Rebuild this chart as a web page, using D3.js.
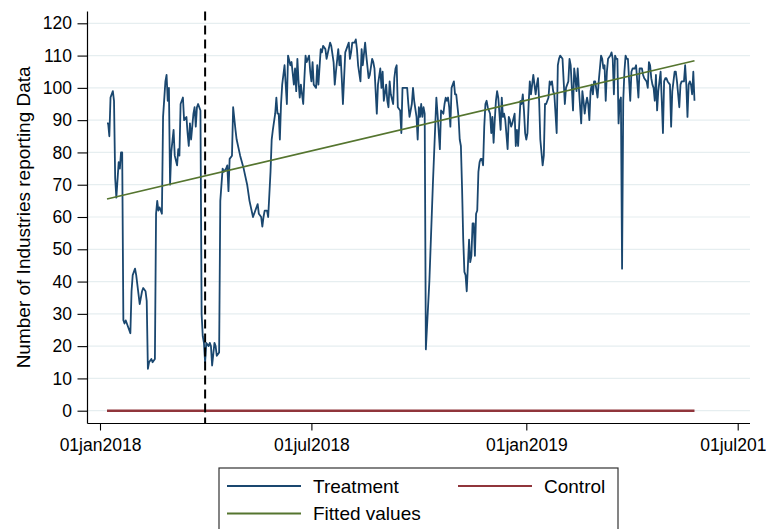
<!DOCTYPE html>
<html>
<head>
<meta charset="utf-8">
<script src="https://cdn.jsdelivr.net/npm/d3@7"></script>
<style>
  html, body { margin: 0; padding: 0; background: #ffffff; }
  svg { display: block; font-family: "Liberation Sans", Arial, Helvetica, sans-serif; }
</style>
</head>
<body>
<svg id="chart" width="766" height="529"></svg>
<script>
// Daily counts of industries reporting data, keyed by days since 01jan2018.
const origin = "2018-01-01";

const dayNumber = [
  6, 7, 8, 9, 11, 12, 13, 14, 16, 17,
  18, 19, 20, 21, 22, 24, 26, 27, 28, 29,
  30, 31, 34, 36, 37, 39, 40, 41, 42, 44,
  45, 47, 48, 49, 50, 51, 53, 54, 56, 57,
  58, 59, 60, 61, 63, 64, 66, 67, 68, 69,
  71, 72, 74, 75, 76, 77, 78, 80, 81, 82,
  83, 84, 86, 87, 88, 89, 90, 91, 93, 94,
  95, 96, 98, 99, 100, 102, 103, 105, 106, 108,
  109, 110, 111, 113, 114, 116, 117, 120, 123, 126,
  128, 131, 133, 135, 136, 138, 139, 140, 141, 143,
  144, 146, 147, 148, 150, 151, 152, 153, 154, 155,
  156, 158, 159, 160, 161, 163, 164, 166, 167, 168,
  169, 170, 171, 172, 174, 175, 176, 177, 179, 180,
  181, 182, 183, 185, 186, 187, 189, 190, 191, 193,
  194, 197, 198, 200, 201, 202, 204, 205, 206, 207,
  208, 210, 211, 213, 214, 215, 216, 218, 219, 220,
  221, 223, 224, 225, 227, 228, 230, 231, 233, 234,
  235, 237, 238, 240, 241, 242, 243, 245, 246, 247,
  248, 249, 251, 252, 253, 254, 255, 257, 258, 259,
  260, 261, 263, 264, 265, 267, 268, 269, 271, 272,
  273, 274, 275, 276, 277, 278, 279, 282, 285, 288,
  289, 291, 292, 294, 295, 296, 297, 298, 299, 300,
  301, 303, 304, 305, 307, 308, 309, 310, 311, 312,
  313, 314, 315, 316, 317, 318, 319, 320, 321, 322,
  323, 324, 325, 326, 327, 328, 329, 330, 331, 332,
  334, 335, 336, 337, 338, 339, 340, 341, 343, 344,
  345, 346, 347, 349, 350, 351, 352, 353, 355, 356,
  357, 358, 360, 361, 362, 363, 364, 365, 366, 367,
  368, 369, 371, 372, 373, 374, 375, 376, 377, 379,
  380, 381, 382, 384, 385, 386, 387, 388, 389, 391,
  392, 393, 394, 396, 397, 398, 399, 401, 402, 403,
  405, 406, 407, 408, 409, 410, 412, 413, 414, 415,
  416, 417, 418, 419, 420, 421, 422, 423, 424, 426,
  427, 428, 429, 430, 431, 432, 433, 434, 435, 437,
  438, 439, 440, 441, 442, 443, 444, 445, 446, 447,
  448, 449, 450, 451, 452, 454, 455, 456, 458, 459,
  460, 461, 462, 463, 464, 465, 466, 468, 469, 470,
  471, 472, 473, 474, 475, 476, 477, 478, 480, 481,
  482, 483, 484, 485, 486, 488, 489, 490, 491, 492,
  493, 494, 496, 497, 498, 499, 500, 501, 502, 503,
  504, 505, 506, 507, 508, 509
];

const treatment = [
  89, 89, 85, 97, 99, 96, 72, 66, 77, 75,
  80, 80, 28, 27, 28, 26, 24, 37, 42, 43,
  44, 42, 33, 37, 38, 37, 34, 13, 15, 16,
  15, 16, 61, 65, 62, 63, 61, 91, 102, 104,
  96, 100, 70, 80, 87, 79, 76, 81, 79, 95,
  97, 90, 91, 86, 82, 89, 84, 92, 94, 88,
  94, 95, 93, 30, 23, 21, 15, 21, 20, 21,
  20, 14, 21, 20, 17, 18, 65, 75, 74, 75,
  76, 68, 78, 79, 94, 87, 84, 79, 75, 70,
  65, 60, 62, 64, 61, 60, 57, 60, 62, 62,
  60, 74, 84, 87, 92, 97, 92, 92, 84, 95,
  101, 107, 101, 95, 110, 107, 108, 101, 106, 99,
  109, 102, 97, 101, 95, 103, 110, 108, 110, 105,
  102, 108, 101, 100, 107, 101, 112, 111, 113, 112,
  109, 114, 113, 108, 101, 105, 112, 107, 110, 103,
  95, 111, 112, 114, 109, 111, 114, 114, 115, 112,
  107, 102, 112, 107, 114, 110, 103, 104, 109, 108,
  106, 92, 101, 106, 100, 105, 96, 101, 96, 94,
  102, 98, 95, 103, 106, 107, 94, 93, 86, 100,
  100, 100, 100, 95, 91, 95, 100, 96, 91, 84,
  94, 91, 95, 91, 94, 92, 19, 40, 70, 97,
  92, 81, 93, 92, 95, 97, 96, 97, 94, 88,
  100, 102, 98, 98, 91, 84, 82, 69, 53, 43,
  42, 37, 45, 53, 46, 48, 58, 58, 48, 61,
  62, 74, 77, 78, 78, 76, 88, 95, 96, 94,
  92, 86, 91, 83, 90, 96, 99, 97, 87, 97,
  91, 92, 90, 81, 91, 90, 88, 89, 92, 82,
  87, 82, 96, 95, 98, 93, 86, 84, 86, 95,
  102, 98, 104, 101, 98, 101, 103, 96, 84, 76,
  79, 95, 95, 97, 102, 101, 102, 99, 98, 86,
  107, 109, 110, 109, 102, 95, 100, 102, 109, 107,
  93, 106, 103, 99, 106, 100, 89, 99, 96, 92,
  95, 97, 95, 90, 99, 101, 98, 102, 102, 97,
  102, 106, 110, 109, 106, 107, 96, 105, 109, 110,
  111, 109, 98, 110, 109, 109, 89, 96, 97, 44,
  96, 105, 110, 109, 109, 96, 105, 106, 106, 107,
  102, 97, 106, 106, 106, 104, 103, 102, 100, 108,
  107, 103, 101, 100, 96, 104, 93, 99, 105, 96,
  86, 102, 103, 103, 102, 101, 88, 99, 102, 105,
  105, 102, 94, 101, 102, 102, 102, 107, 101, 91,
  101, 102, 101, 98, 105, 96
];

// Control group: no industries reporting over the same window.
const controlDays = [6, 509];
const control = [0, 0];

// Linear fit of the treatment series (endpoints of the fitted line).
const fittedDays = [6, 509];
const fitted = [65.6, 108.4];

// Intervention date (01apr2018).
const eventDay = 90;

const yTicks = [0, 10, 20, 30, 40, 50, 60, 70, 80, 90, 100, 110, 120];
const xTickDates = ["2018-01-01", "2018-07-01", "2019-01-01", "2019-07-01"];
const xTickLabels = ["01jan2018", "01jul2018", "01jan2019", "01jul2019"];
const legendLabels = ["Treatment", "Control", "Fitted values"];

const colors = { treatment: "#1a476f", control: "#90353b", fitted: "#55752f" };

// ---------------------------------------------------------------
const parse = d3.utcParse("%Y-%m-%d");
const base = parse(origin);
const toDate = d => d3.utcDay.offset(base, d);

const svg = d3.select("#chart");

// plot region
const frame = { left: 87.5, right: 750, top: 11.5, bottom: 423.5 };

const x = d3.scaleUtc()
  .domain([parse(xTickDates[0]), parse(xTickDates[xTickDates.length - 1])])
  .range([100, 737.7]);

const y = d3.scaleLinear()
  .domain([0, 120])
  .range([410.7, 23.3]);

// gridlines
svg.append("g")
  .selectAll("line")
  .data(yTicks)
  .join("line")
  .attr("x1", frame.left)
  .attr("x2", frame.right)
  .attr("y1", d => y(d))
  .attr("y2", d => y(d))
  .attr("stroke", "#e6eef0")
  .attr("stroke-width", 1.2);

// series
const treatmentData = dayNumber.map((d, i) => ({ date: toDate(d), value: treatment[i] }));
const controlData = controlDays.map((d, i) => ({ date: toDate(d), value: control[i] }));
const fittedData = fittedDays.map((d, i) => ({ date: toDate(d), value: fitted[i] }));

const line = d3.line().x(d => x(d.date)).y(d => y(d.value));

svg.append("path")
  .datum(treatmentData)
  .attr("d", line)
  .attr("fill", "none")
  .attr("stroke", colors.treatment)
  .attr("stroke-width", 1.8)
  .attr("stroke-linejoin", "round");

svg.append("path")
  .datum(controlData)
  .attr("d", line)
  .attr("fill", "none")
  .attr("stroke", colors.control)
  .attr("stroke-width", 2.5);

svg.append("path")
  .datum(fittedData)
  .attr("d", line)
  .attr("fill", "none")
  .attr("stroke", colors.fitted)
  .attr("stroke-width", 1.6);

// intervention marker
svg.append("line")
  .attr("x1", x(toDate(eventDay)))
  .attr("x2", x(toDate(eventDay)))
  .attr("y1", frame.top)
  .attr("y2", frame.bottom)
  .attr("stroke", "#000")
  .attr("stroke-width", 2)
  .attr("stroke-dasharray", "9,5");

// axes
const tickFont = "17.5px";

const yAxis = d3.axisLeft(y)
  .tickValues(yTicks)
  .tickSize(10)
  .tickPadding(5.5)
  .tickFormat(d3.format("d"));

const gy = svg.append("g")
  .attr("transform", `translate(${frame.left},0)`)
  .call(yAxis);
gy.select(".domain").remove();
gy.selectAll(".tick line").attr("stroke", "#000").attr("stroke-width", 1.1);
gy.selectAll(".tick text")
  .attr("fill", "#000")
  .style("font-size", tickFont)
  .style("font-family", "'Liberation Sans', Arial, sans-serif");

const xAxis = d3.axisBottom(x)
  .tickValues(xTickDates.map(parse))
  .tickSize(7)
  .tickPadding(8)
  .tickFormat((d, i) => xTickLabels[i]);

const gx = svg.append("g")
  .attr("transform", `translate(0,${frame.bottom})`)
  .call(xAxis);
gx.select(".domain").remove();
gx.selectAll(".tick line").attr("stroke", "#000").attr("stroke-width", 1.1);
gx.selectAll(".tick text")
  .attr("fill", "#000")
  .style("font-size", tickFont)
  .style("font-family", "'Liberation Sans', Arial, sans-serif");

// axis lines
svg.append("line")
  .attr("x1", frame.left).attr("x2", frame.left)
  .attr("y1", frame.top).attr("y2", frame.bottom)
  .attr("stroke", "#000").attr("stroke-width", 1.2);
svg.append("line")
  .attr("x1", frame.left).attr("x2", frame.right)
  .attr("y1", frame.bottom).attr("y2", frame.bottom)
  .attr("stroke", "#000").attr("stroke-width", 1.2);

// y axis title
svg.append("text")
  .attr("transform", `translate(30,${(61.7 + 373) / 2}) rotate(-90)`)
  .attr("text-anchor", "middle")
  .style("font-size", "19px")
  .attr("fill", "#000")
  .text("Number of Industries reporting Data");

// legend
const legend = svg.append("g");
legend.append("rect")
  .attr("x", 219).attr("y", 468)
  .attr("width", 399).attr("height", 80)
  .attr("fill", "#fff")
  .attr("stroke", "#333")
  .attr("stroke-width", 1.2);

const legendItems = [
  { label: legendLabels[0], color: colors.treatment, x: 227, y: 486 },
  { label: legendLabels[1], color: colors.control, x: 458, y: 486 },
  { label: legendLabels[2], color: colors.fitted, x: 227, y: 513.5 }
];

const li = legend.selectAll("g.item")
  .data(legendItems)
  .join("g")
  .attr("class", "item")
  .attr("transform", d => `translate(${d.x},${d.y})`);

li.append("line")
  .attr("x1", 0).attr("x2", 74)
  .attr("stroke", d => d.color)
  .attr("stroke-width", 1.8);

li.append("text")
  .attr("x", 86)
  .attr("dy", "0.36em")
  .style("font-size", "19px")
  .attr("fill", "#000")
  .text(d => d.label);

if (dayNumber.length !== treatment.length) {
  console.error("series length mismatch", dayNumber.length, treatment.length);
}
</script>
</body>
</html>
